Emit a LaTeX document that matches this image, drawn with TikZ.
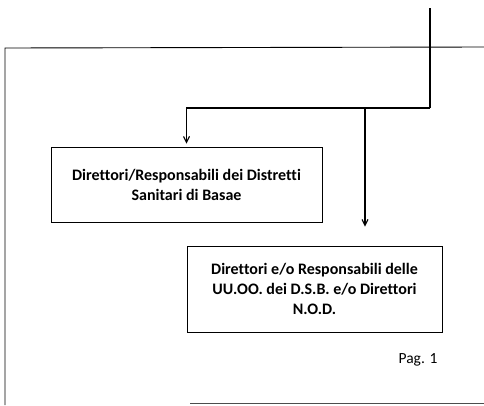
\documentclass[tikz,border=0pt]{standalone}
\usepackage{fontspec}
\setmainfont{Carlito}[Ligatures=NoCommon]
\usetikzlibrary{arrows.meta, positioning}

\begin{document}
\begin{tikzpicture}[x=1pt, y=-1pt,
        office/.style={draw, line width=0.8pt, align=center, font=\bfseries\fontsize{16}{20}\selectfont},
        flow/.style={line width=1.1pt, -{Straight Barb[length=6pt, width=6pt]}, shorten >=3pt},
        sheet/.style={line width=0.9pt}]

    \useasboundingbox (0,0) rectangle (484,405);

    % page edges
    \draw[sheet] (5,405) -- (5,48) -- (484,47);
    \draw[sheet, black!70] (190,403) -- (484,403);

    % offices
    \node[office, minimum width=271pt, minimum height=75pt] (distretti) at (186.5,184.5)
        {Direttori/Responsabili dei Distretti\\Sanitari di Basae};
    \node[office, minimum width=255pt, minimum height=86pt] (uuoo) at (314.5,289)
        {Direttori e/o Responsabili delle\\UU.OO. dei D.S.B. e/o Direttori\\N.O.D.};

    \node[font=\fontsize{15.5}{18}\selectfont] (pag) at (418,360) {Pag. 1};

    % connectors
    \coordinate (top) at (430,8);
    \coordinate (split) at (430,108);
    \coordinate (branch) at (365,108);
    \draw[line width=1.1pt] (top) -- (split);
    \draw[flow] (split) -| (distretti.north);
    \draw[flow] (branch) -- ([yshift=16pt]uuoo.north -| branch);
\end{tikzpicture}
\end{document}
